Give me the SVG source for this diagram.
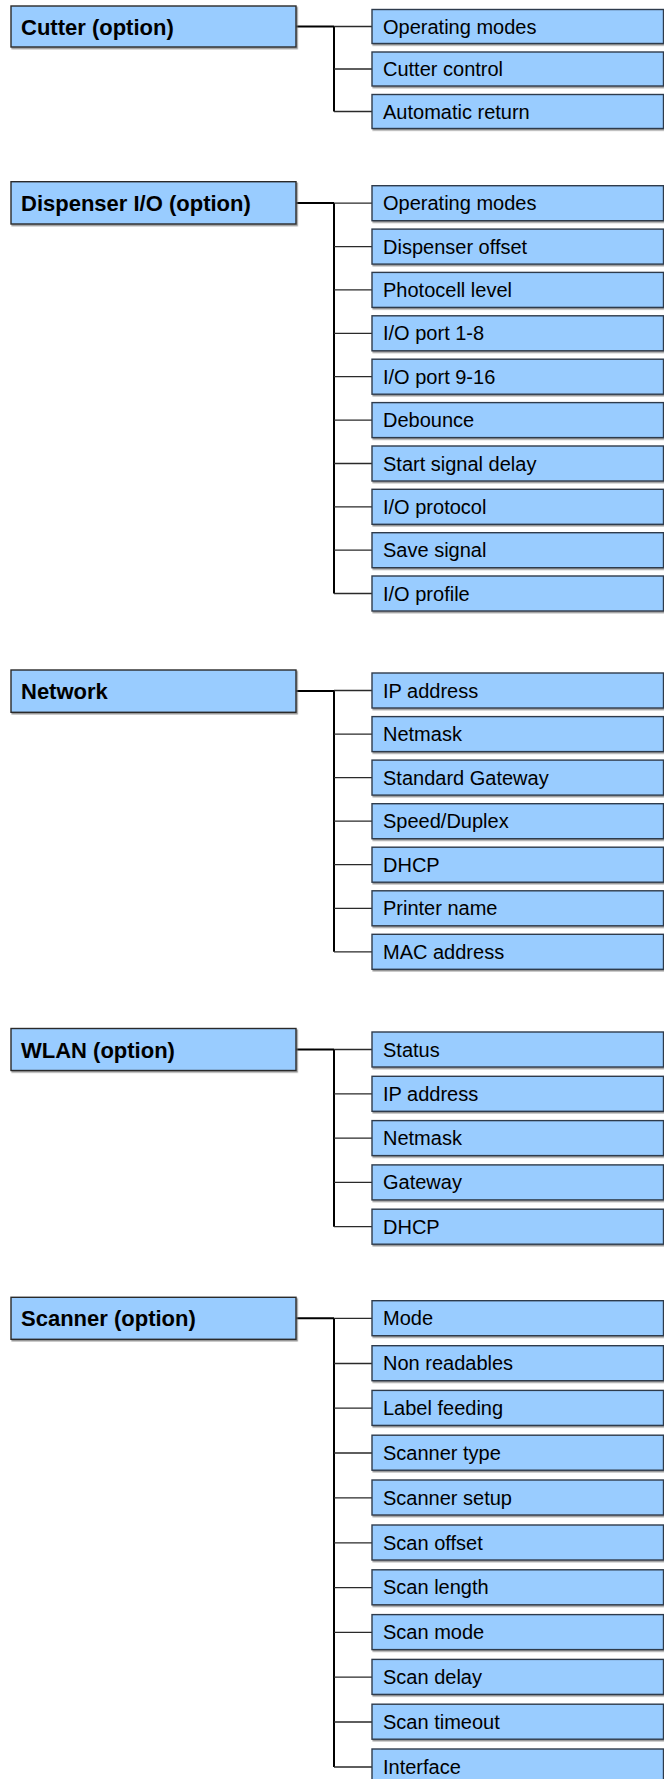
<svg xmlns="http://www.w3.org/2000/svg" width="664" height="1779" viewBox="0 0 664 1779">
<defs>
<filter id="sh" x="-5%" y="-20%" width="110%" height="150%">
<feDropShadow dx="1.2" dy="1.5" stdDeviation="0.4" flood-color="#6a6a6a" flood-opacity="0.7"/>
</filter>
</defs>
<style>
.pbox{fill:#99ccff;stroke:#2a2a2a;stroke-width:1.4;filter:url(#sh)}
.cbox{fill:#99ccff;stroke:#2f3b4b;stroke-width:1.4;filter:url(#sh)}
.ptxt{font-family:"Liberation Sans",Arial,sans-serif;font-size:22px;font-weight:bold;fill:#000}
.ctxt{font-family:"Liberation Sans",Arial,sans-serif;font-size:20px;fill:#000}
.trunk{fill:none;stroke:#000;stroke-width:2}
.stub{fill:none;stroke:#2a2a2a;stroke-width:1.3}
</style>
<rect width="664" height="1779" fill="#fff"/>
<g id="connectors">
<path class="trunk" d="M296,26.5H334M334,26.5V111.5"/>
<path class="stub" d="M334,26.5H372M334,69H372M334,111.5H372"/>
<path class="trunk" d="M296,203H334M334,203V593.5"/>
<path class="stub" d="M334,203.2H372M334,246.6H372M334,289.9H372M334,333.3H372M334,376.7H372M334,420.1H372M334,463.5H372M334,506.8H372M334,550.2H372M334,593.5H372"/>
<path class="trunk" d="M296,691H334M334,691V951.8"/>
<path class="stub" d="M334,690.5H372M334,734.1H372M334,777.6H372M334,821.2H372M334,864.7H372M334,908.3H372M334,951.8H372"/>
<path class="trunk" d="M296,1049.5H334M334,1049.5V1226.7"/>
<path class="stub" d="M334,1049.5H372M334,1093.8H372M334,1138.1H372M334,1182.4H372M334,1226.7H372"/>
<path class="trunk" d="M296,1318.3H334M334,1318.3V1767"/>
<path class="stub" d="M334,1318.3H372M334,1363.5H372M334,1408.2H372M334,1453H372M334,1497.8H372M334,1542.8H372M334,1587.6H372M334,1632.4H372M334,1677.2H372M334,1722H372M334,1767H372"/>
</g>
<g id="cutter"><rect class="pbox" x="11" y="6" width="285" height="41"/><text class="ptxt" x="21" y="34.5">Cutter (option)</text></g>
<g id="cutter-operating-modes"><rect class="cbox" x="372" y="9.5" width="291.5" height="34"/><text class="ctxt" x="383" y="33.7">Operating modes</text></g>
<g id="cutter-control"><rect class="cbox" x="372" y="52" width="291.5" height="34"/><text class="ctxt" x="383" y="76.2">Cutter control</text></g>
<g id="cutter-automatic-return"><rect class="cbox" x="372" y="94.5" width="291.5" height="34"/><text class="ctxt" x="383" y="118.7">Automatic return</text></g>

<g id="dispenser"><rect class="pbox" x="11" y="181.7" width="285" height="42.3"/><text class="ptxt" x="21" y="211">Dispenser I/O (option)</text></g>
<g id="disp-operating-modes"><rect class="cbox" x="372" y="185.7" width="291.5" height="35"/><text class="ctxt" x="383" y="210.2">Operating modes</text></g>
<g id="disp-offset"><rect class="cbox" x="372" y="229.1" width="291.5" height="35"/><text class="ctxt" x="383" y="253.6">Dispenser offset</text></g>
<g id="disp-photocell"><rect class="cbox" x="372" y="272.4" width="291.5" height="35"/><text class="ctxt" x="383" y="296.9">Photocell level</text></g>
<g id="disp-io-port-1-8"><rect class="cbox" x="372" y="315.8" width="291.5" height="35"/><text class="ctxt" x="383" y="340.3">I/O port 1-8</text></g>
<g id="disp-io-port-9-16"><rect class="cbox" x="372" y="359.2" width="291.5" height="35"/><text class="ctxt" x="383" y="383.7">I/O port 9-16</text></g>
<g id="disp-debounce"><rect class="cbox" x="372" y="402.6" width="291.5" height="35"/><text class="ctxt" x="383" y="427.1">Debounce</text></g>
<g id="disp-start-signal-delay"><rect class="cbox" x="372" y="446" width="291.5" height="35"/><text class="ctxt" x="383" y="470.5">Start signal delay</text></g>
<g id="disp-io-protocol"><rect class="cbox" x="372" y="489.3" width="291.5" height="35"/><text class="ctxt" x="383" y="513.8">I/O protocol</text></g>
<g id="disp-save-signal"><rect class="cbox" x="372" y="532.7" width="291.5" height="35"/><text class="ctxt" x="383" y="557.2">Save signal</text></g>
<g id="disp-io-profile"><rect class="cbox" x="372" y="576" width="291.5" height="35"/><text class="ctxt" x="383" y="600.5">I/O profile</text></g>

<g id="network"><rect class="pbox" x="11" y="670" width="285" height="42.3"/><text class="ptxt" x="21" y="699.2">Network</text></g>
<g id="net-ip-address"><rect class="cbox" x="372" y="673" width="291.5" height="35"/><text class="ctxt" x="383" y="697.5">IP address</text></g>
<g id="net-netmask"><rect class="cbox" x="372" y="716.6" width="291.5" height="35"/><text class="ctxt" x="383" y="741.1">Netmask</text></g>
<g id="net-standard-gateway"><rect class="cbox" x="372" y="760.1" width="291.5" height="35"/><text class="ctxt" x="383" y="784.6">Standard Gateway</text></g>
<g id="net-speed-duplex"><rect class="cbox" x="372" y="803.7" width="291.5" height="35"/><text class="ctxt" x="383" y="828.2">Speed/Duplex</text></g>
<g id="net-dhcp"><rect class="cbox" x="372" y="847.2" width="291.5" height="35"/><text class="ctxt" x="383" y="871.7">DHCP</text></g>
<g id="net-printer-name"><rect class="cbox" x="372" y="890.8" width="291.5" height="35"/><text class="ctxt" x="383" y="915.3">Printer name</text></g>
<g id="net-mac-address"><rect class="cbox" x="372" y="934.3" width="291.5" height="35"/><text class="ctxt" x="383" y="958.8">MAC address</text></g>

<g id="wlan"><rect class="pbox" x="11" y="1028.5" width="285" height="42"/><text class="ptxt" x="21" y="1057.5">WLAN (option)</text></g>
<g id="wlan-status"><rect class="cbox" x="372" y="1032" width="291.5" height="35"/><text class="ctxt" x="383" y="1056.5">Status</text></g>
<g id="wlan-ip-address"><rect class="cbox" x="372" y="1076.3" width="291.5" height="35"/><text class="ctxt" x="383" y="1100.8">IP address</text></g>
<g id="wlan-netmask"><rect class="cbox" x="372" y="1120.6" width="291.5" height="35"/><text class="ctxt" x="383" y="1145.1">Netmask</text></g>
<g id="wlan-gateway"><rect class="cbox" x="372" y="1164.9" width="291.5" height="35"/><text class="ctxt" x="383" y="1189.4">Gateway</text></g>
<g id="wlan-dhcp"><rect class="cbox" x="372" y="1209.2" width="291.5" height="35"/><text class="ctxt" x="383" y="1233.7">DHCP</text></g>

<g id="scanner"><rect class="pbox" x="11" y="1297.3" width="285" height="42"/><text class="ptxt" x="21" y="1326.3">Scanner (option)</text></g>
<g id="scan-mode-1"><rect class="cbox" x="372" y="1300.7" width="291.5" height="35"/><text class="ctxt" x="383" y="1325.2">Mode</text></g>
<g id="scan-non-readables"><rect class="cbox" x="372" y="1345.7" width="291.5" height="35"/><text class="ctxt" x="383" y="1370.2">Non readables</text></g>
<g id="scan-label-feeding"><rect class="cbox" x="372" y="1390.4" width="291.5" height="35"/><text class="ctxt" x="383" y="1414.9">Label feeding</text></g>
<g id="scan-scanner-type"><rect class="cbox" x="372" y="1435.2" width="291.5" height="35"/><text class="ctxt" x="383" y="1459.7">Scanner type</text></g>
<g id="scan-scanner-setup"><rect class="cbox" x="372" y="1480" width="291.5" height="35"/><text class="ctxt" x="383" y="1504.5">Scanner setup</text></g>
<g id="scan-offset"><rect class="cbox" x="372" y="1525" width="291.5" height="35"/><text class="ctxt" x="383" y="1549.5">Scan offset</text></g>
<g id="scan-length"><rect class="cbox" x="372" y="1569.8" width="291.5" height="35"/><text class="ctxt" x="383" y="1594.3">Scan length</text></g>
<g id="scan-mode"><rect class="cbox" x="372" y="1614.6" width="291.5" height="35"/><text class="ctxt" x="383" y="1639.1">Scan mode</text></g>
<g id="scan-delay"><rect class="cbox" x="372" y="1659.4" width="291.5" height="35"/><text class="ctxt" x="383" y="1683.9">Scan delay</text></g>
<g id="scan-timeout"><rect class="cbox" x="372" y="1704.2" width="291.5" height="35"/><text class="ctxt" x="383" y="1728.7">Scan timeout</text></g>
<g id="scan-interface"><rect class="cbox" x="372" y="1749" width="291.5" height="35"/><text class="ctxt" x="383" y="1773.5">Interface</text></g>
</svg>
